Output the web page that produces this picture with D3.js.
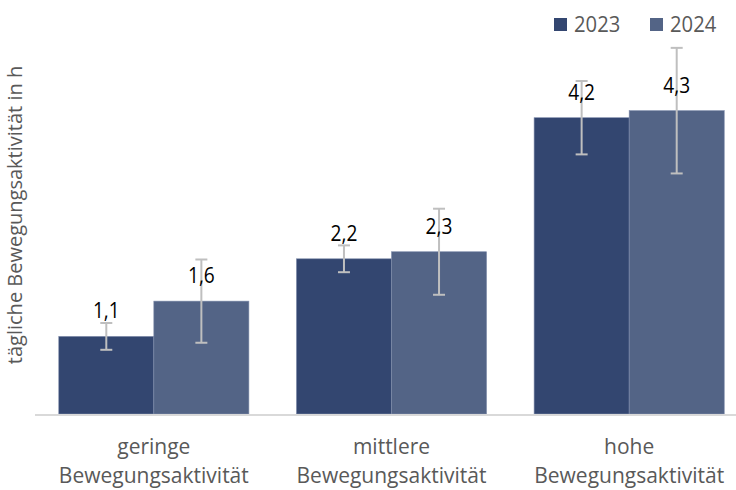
<!DOCTYPE html>
<html>
<head>
<meta charset="utf-8">
<script src="https://cdn.jsdelivr.net/npm/d3@7/dist/d3.min.js"></script>
<style>
  html, body { margin: 0; padding: 0; background: #fff; }
  svg { display: block; font-family: "Open Sans", "Noto Sans", sans-serif; }
</style>
</head>
<body>
<svg id="chart" width="736" height="490"></svg>
<script>
// Daily physical activity by activity level, 2023 vs 2024
const categories = [["geringe", "Bewegungsaktivität"], ["mittlere", "Bewegungsaktivität"], ["hohe", "Bewegungsaktivität"]];
const seriesNames = ["2023", "2024"];
const values2023 = [1.1, 2.2, 4.2];
const values2024 = [1.6, 2.3, 4.3];
const err2023 = [0.19, 0.19, 0.52];
const err2024 = [0.59, 0.61, 0.89];
const yTitle = "tägliche Bewegungsaktivität in h";

const colors = ["#334670", "#536486"];
const textGray = "#595959";

const svg = d3.select("#chart");
const baseY = 414;

const x0 = d3.scaleBand().domain(d3.range(categories.length))
  .range([35, 748]).paddingInner(0.2).paddingOuter(0.1);
const x1 = d3.scaleBand().domain(seriesNames).range([0, x0.bandwidth()]);
const y = d3.scaleLinear().domain([0, 5.5]).range([baseY, 26]);

const rows = [];
categories.forEach((c, i) => {
  rows.push({ i, s: "2023", v: values2023[i], e: err2023[i], c: colors[0] });
  rows.push({ i, s: "2024", v: values2024[i], e: err2024[i], c: colors[1] });
});

// horizontally condensed text helper
function condensed(sel, sx) {
  sel.attr("transform", function () {
    const tx = +this.getAttribute("data-x"), ty = +this.getAttribute("data-y");
    return `translate(${tx},${ty}) scale(${sx},1)`;
  });
}

// bars
svg.append("g").selectAll("rect").data(rows).join("rect")
  .attr("x", d => x0(d.i) + x1(d.s))
  .attr("y", d => y(d.v))
  .attr("width", x1.bandwidth())
  .attr("height", d => y(0) - y(d.v))
  .attr("fill", d => d.c)
  .attr("stroke", "#7f8cab")
  .attr("stroke-width", 0.6);

// baseline
svg.append("line")
  .attr("x1", 35).attr("x2", 736)
  .attr("y1", y(0) + 1).attr("y2", y(0) + 1)
  .attr("stroke", "#d9d9d9").attr("stroke-width", 2);

// error bars
const eb = svg.append("g").attr("stroke", "#bfbfbf").attr("stroke-width", 2);
rows.forEach(d => {
  const cx = x0(d.i) + x1(d.s) + x1.bandwidth() / 2;
  const top = y(d.v + d.e), bot = y(d.v - d.e);
  eb.append("line").attr("x1", cx).attr("x2", cx).attr("y1", top).attr("y2", bot);
  eb.append("line").attr("x1", cx - 6).attr("x2", cx + 6).attr("y1", top).attr("y2", top);
  eb.append("line").attr("x1", cx - 6).attr("x2", cx + 6).attr("y1", bot).attr("y2", bot);
});

// value labels (on top of the error bars)
svg.append("g").selectAll("text").data(rows).join("text")
  .attr("data-x", d => x0(d.i) + x1(d.s) + x1.bandwidth() / 2)
  .attr("data-y", d => y(d.v) - 18)
  .attr("text-anchor", "middle")
  .attr("font-size", 22)
  .attr("fill", "#000")
  .text(d => d3.format(".1f")(d.v).replace(".", ","))
  .call(condensed, 0.87);

// category labels
const cat = svg.append("g");
categories.forEach((lines, i) => {
  lines.forEach((t, k) => {
    cat.append("text")
      .attr("x", x0(i) + x0.bandwidth() / 2)
      .attr("y", 454 + k * 29)
      .attr("text-anchor", "middle")
      .attr("font-size", 21)
      .attr("fill", textGray)
      .text(t);
  });
});

// y axis title
svg.append("text")
  .attr("transform", `translate(22,${215}) rotate(-90)`)
  .attr("text-anchor", "middle")
  .attr("font-size", 20)
  .attr("fill", textGray)
  .text(yTitle);

// legend
const legX = [554, 650];
const leg = svg.append("g");
seriesNames.forEach((s, i) => {
  leg.append("rect").attr("x", legX[i]).attr("y", 18).attr("width", 13).attr("height", 13).attr("fill", colors[i]);
  leg.append("text")
    .attr("data-x", legX[i] + 20).attr("data-y", 32)
    .attr("font-size", 22)
    .attr("fill", textGray)
    .text(s)
    .call(condensed, 0.92);
});
</script>
</body>
</html>
